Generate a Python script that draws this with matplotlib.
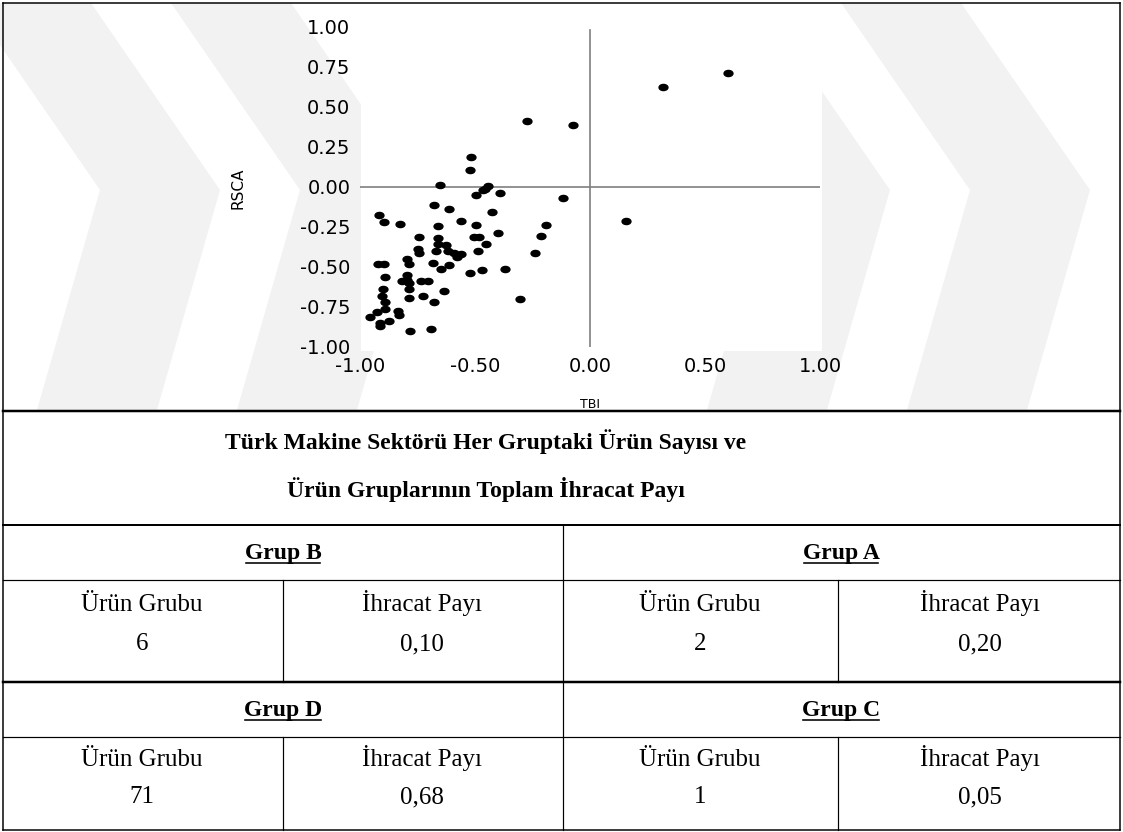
import matplotlib
matplotlib.use("Agg")
import matplotlib.pyplot as plt
from matplotlib.path import Path
from matplotlib.transforms import Affine2D
from matplotlib.lines import Line2D
from matplotlib.patches import Polygon, Rectangle

plt.rcParams['axes.unicode_minus'] = False

# ---------------- data ----------------
tbi = [0.319, 0.599, 0.155,
       -0.275, -0.075, -0.517, -0.520, -0.654, -0.445,
       -0.467, -0.455, -0.497, -0.393, -0.116, -0.680, -0.613, -0.919, -0.894, -0.825,
       -0.660, -0.560, -0.496, -0.425, -0.193, -0.214, -0.401, -0.745, -0.661, -0.503,
       -0.484, -0.662, -0.627, -0.452, -0.746, -0.742, -0.670, -0.616, -0.590, -0.562,
       -0.580, -0.486, -0.238, -0.796, -0.787, -0.923, -0.894, -0.683, -0.649, -0.612,
       -0.522, -0.470, -0.371, -0.890, -0.796, -0.819, -0.797, -0.787, -0.735, -0.703,
       -0.787, -0.901, -0.633, -0.903, -0.787, -0.725, -0.677, -0.893, -0.303, -0.890,
       -0.927, -0.957, -0.835, -0.832, -0.913, -0.913, -0.873, -0.783, -0.693]
rsca = [0.623, 0.714, -0.210,
        0.415, 0.390, 0.190, 0.105, 0.010, 0.005,
        -0.020, -0.010, -0.050, -0.035, -0.070, -0.110, -0.140, -0.175, -0.220, -0.230,
        -0.245, -0.210, -0.240, -0.155, -0.235, -0.305, -0.285, -0.310, -0.320, -0.310,
        -0.310, -0.356, -0.365, -0.356, -0.390, -0.410, -0.400, -0.400, -0.410, -0.420,
        -0.440, -0.400, -0.410, -0.450, -0.480, -0.480, -0.480, -0.477, -0.515, -0.490,
        -0.540, -0.520, -0.510, -0.565, -0.550, -0.587, -0.580, -0.600, -0.585, -0.590,
        -0.640, -0.636, -0.650, -0.680, -0.696, -0.680, -0.720, -0.720, -0.700, -0.765,
        -0.780, -0.810, -0.775, -0.800, -0.850, -0.870, -0.840, -0.900, -0.890]

x_ticks = [-1.0, -0.5, 0.0, 0.5, 1.0]
x_tick_labels = ["-1.00", "-0.50", "0.00", "0.50", "1.00"]
y_ticks = [-1.0, -0.75, -0.5, -0.25, 0.0, 0.25, 0.5, 0.75, 1.0]
y_tick_labels = ["-1.00", "-0.75", "-0.50", "-0.25", "0.00", "0.25", "0.50", "0.75", "1.00"]

title_lines = ["Türk Makine Sektörü Her Gruptaki Ürün Sayısı ve",
               "Ürün Gruplarının Toplam İhracat Payı"]
group_names = ["Grup B", "Grup A", "Grup D", "Grup C"]
col_headers = ["Ürün Grubu", "İhracat Payı"]
product_counts = ["6", "2", "71", "1"]
export_shares = ["0,10", "0,20", "0,68", "0,05"]

# ---------------- figure ----------------
W, H = 1123, 832
fig = plt.figure(figsize=(W / 100, H / 100), dpi=100)
fig.patch.set_facecolor("white")

# overlay in pixel coordinates for the table frame / background
ov = fig.add_axes([0, 0, 1, 1])
ov.set_xlim(0, W)
ov.set_ylim(H, 0)
ov.axis("off")

# faint chevron watermark behind the chart area
chevron = [(171, 3), (300, 190), (237, 410), (357, 410), (420, 190), (291, 3)]
for dx in (-200, 0, 470, 670):
    ov.add_patch(Polygon([(x + dx, y) for x, y in chevron], closed=True,
                         facecolor="#f2f2f2", edgecolor="none", zorder=0))
# opaque white plot area
ov.add_patch(Rectangle((361, 3), 461, 348, facecolor="white", edgecolor="none", zorder=1))

def px_line(x0, y0, x1, y1, lw_px):
    ov.add_line(Line2D([x0, x1], [y0, y1], color="black", lw=lw_px * 0.72,
                       solid_capstyle="projecting", zorder=5))

# outer border
L, R, T, B = 3, 1120, 3, 830
px_line(L, T, R, T, 1.5)
px_line(L, B, R, B, 1.5)
px_line(L, T, L, B, 1.5)
px_line(R, T, R, B, 1.5)
# horizontal rules
px_line(L, 411, R, 411, 2.5)
px_line(L, 525, R, 525, 2.0)
px_line(L, 580, R, 580, 1.2)
px_line(L, 682, R, 682, 2.5)
px_line(L, 737, R, 737, 1.2)
# vertical rules
px_line(563, 525, 563, B, 1.2)
for xv in (283, 838):
    px_line(xv, 580, xv, 682, 1.2)
    px_line(xv, 737, xv, B, 1.2)

# ---------------- scatter ----------------
ax = fig.add_axes([360 / W, 1 - 347 / H, 460 / W, 320 / H])
ax.set_xlim(-1, 1)
ax.set_ylim(-1, 1)
ax.patch.set_alpha(0)
for s in ax.spines.values():
    s.set_visible(False)
ax.axhline(0, color="#7f7f7f", lw=1.2, zorder=1)
ax.axvline(0, ymin=0, ymax=0.99, color="#7f7f7f", lw=1.2, zorder=1)

ellipse = Path.unit_circle().transformed(Affine2D().scale(1.45, 1.0))
ax.plot(tbi, rsca, linestyle="none", marker=ellipse, markersize=6.4,
        color="black", zorder=3)

ax.set_xticks(x_ticks)
ax.set_xticklabels(x_tick_labels)
ax.set_yticks(y_ticks)
ax.set_yticklabels(y_tick_labels)
ax.tick_params(axis="both", length=0, labelsize=14, colors="black")
ax.tick_params(axis="y", pad=7)
ax.tick_params(axis="x", pad=7)

fig.text(238 / W, 1 - 188 / H, "RSCA", rotation=90, ha="center", va="center",
         fontsize=11, family=["Liberation Sans Narrow", "DejaVu Sans"])
fig.text(590 / W, 1 - 404 / H, "TBI", ha="center", va="center",
         fontsize=9, family=["Liberation Sans Narrow", "DejaVu Sans"])

# ---------------- table text ----------------
serif = ["Liberation Serif", "DejaVu Serif"]
for i, line in enumerate(title_lines):
    ov.text(486, 449 + i * 48, line, ha="center", va="baseline", fontsize=17,
            fontweight="bold", family=serif, zorder=6)

group_centers = [(283, 559), (841, 559), (283, 716), (841, 716)]
col_x = [(142, 422), (700, 980), (142, 422), (700, 980)]
row_y = [(611, 650), (611, 650), (766, 803), (766, 803)]

group_texts = []
for g, (cx, cy) in zip(group_names, group_centers):
    t = ov.text(cx, cy, g, ha="center", va="baseline", fontsize=17,
                fontweight="bold", family=serif, zorder=6)
    group_texts.append(t)

for k in range(4):
    (x1, x2), (y1, y2) = col_x[k], row_y[k]
    ov.text(x1, y1, col_headers[0], ha="center", va="baseline", fontsize=18, family=serif)
    ov.text(x2, y1, col_headers[1], ha="center", va="baseline", fontsize=18, family=serif)
    ov.text(x1, y2, product_counts[k], ha="center", va="baseline", fontsize=18, family=serif)
    ov.text(x2, y2, export_shares[k], ha="center", va="baseline", fontsize=18, family=serif)

# underline group names (just below the baseline)
fig.canvas.draw()
renderer = fig.canvas.get_renderer()
inv = ov.transData.inverted()
for t, (cx, cy) in zip(group_texts, group_centers):
    bb = t.get_window_extent(renderer)
    (x0, _), (x1, _) = inv.transform([(bb.x0, bb.y0), (bb.x1, bb.y1)])
    px_line(min(x0, x1) + 1, cy + 4, max(x0, x1) - 1, cy + 4, 1.6)

fig.savefig("out.png", dpi=100, facecolor="white")
